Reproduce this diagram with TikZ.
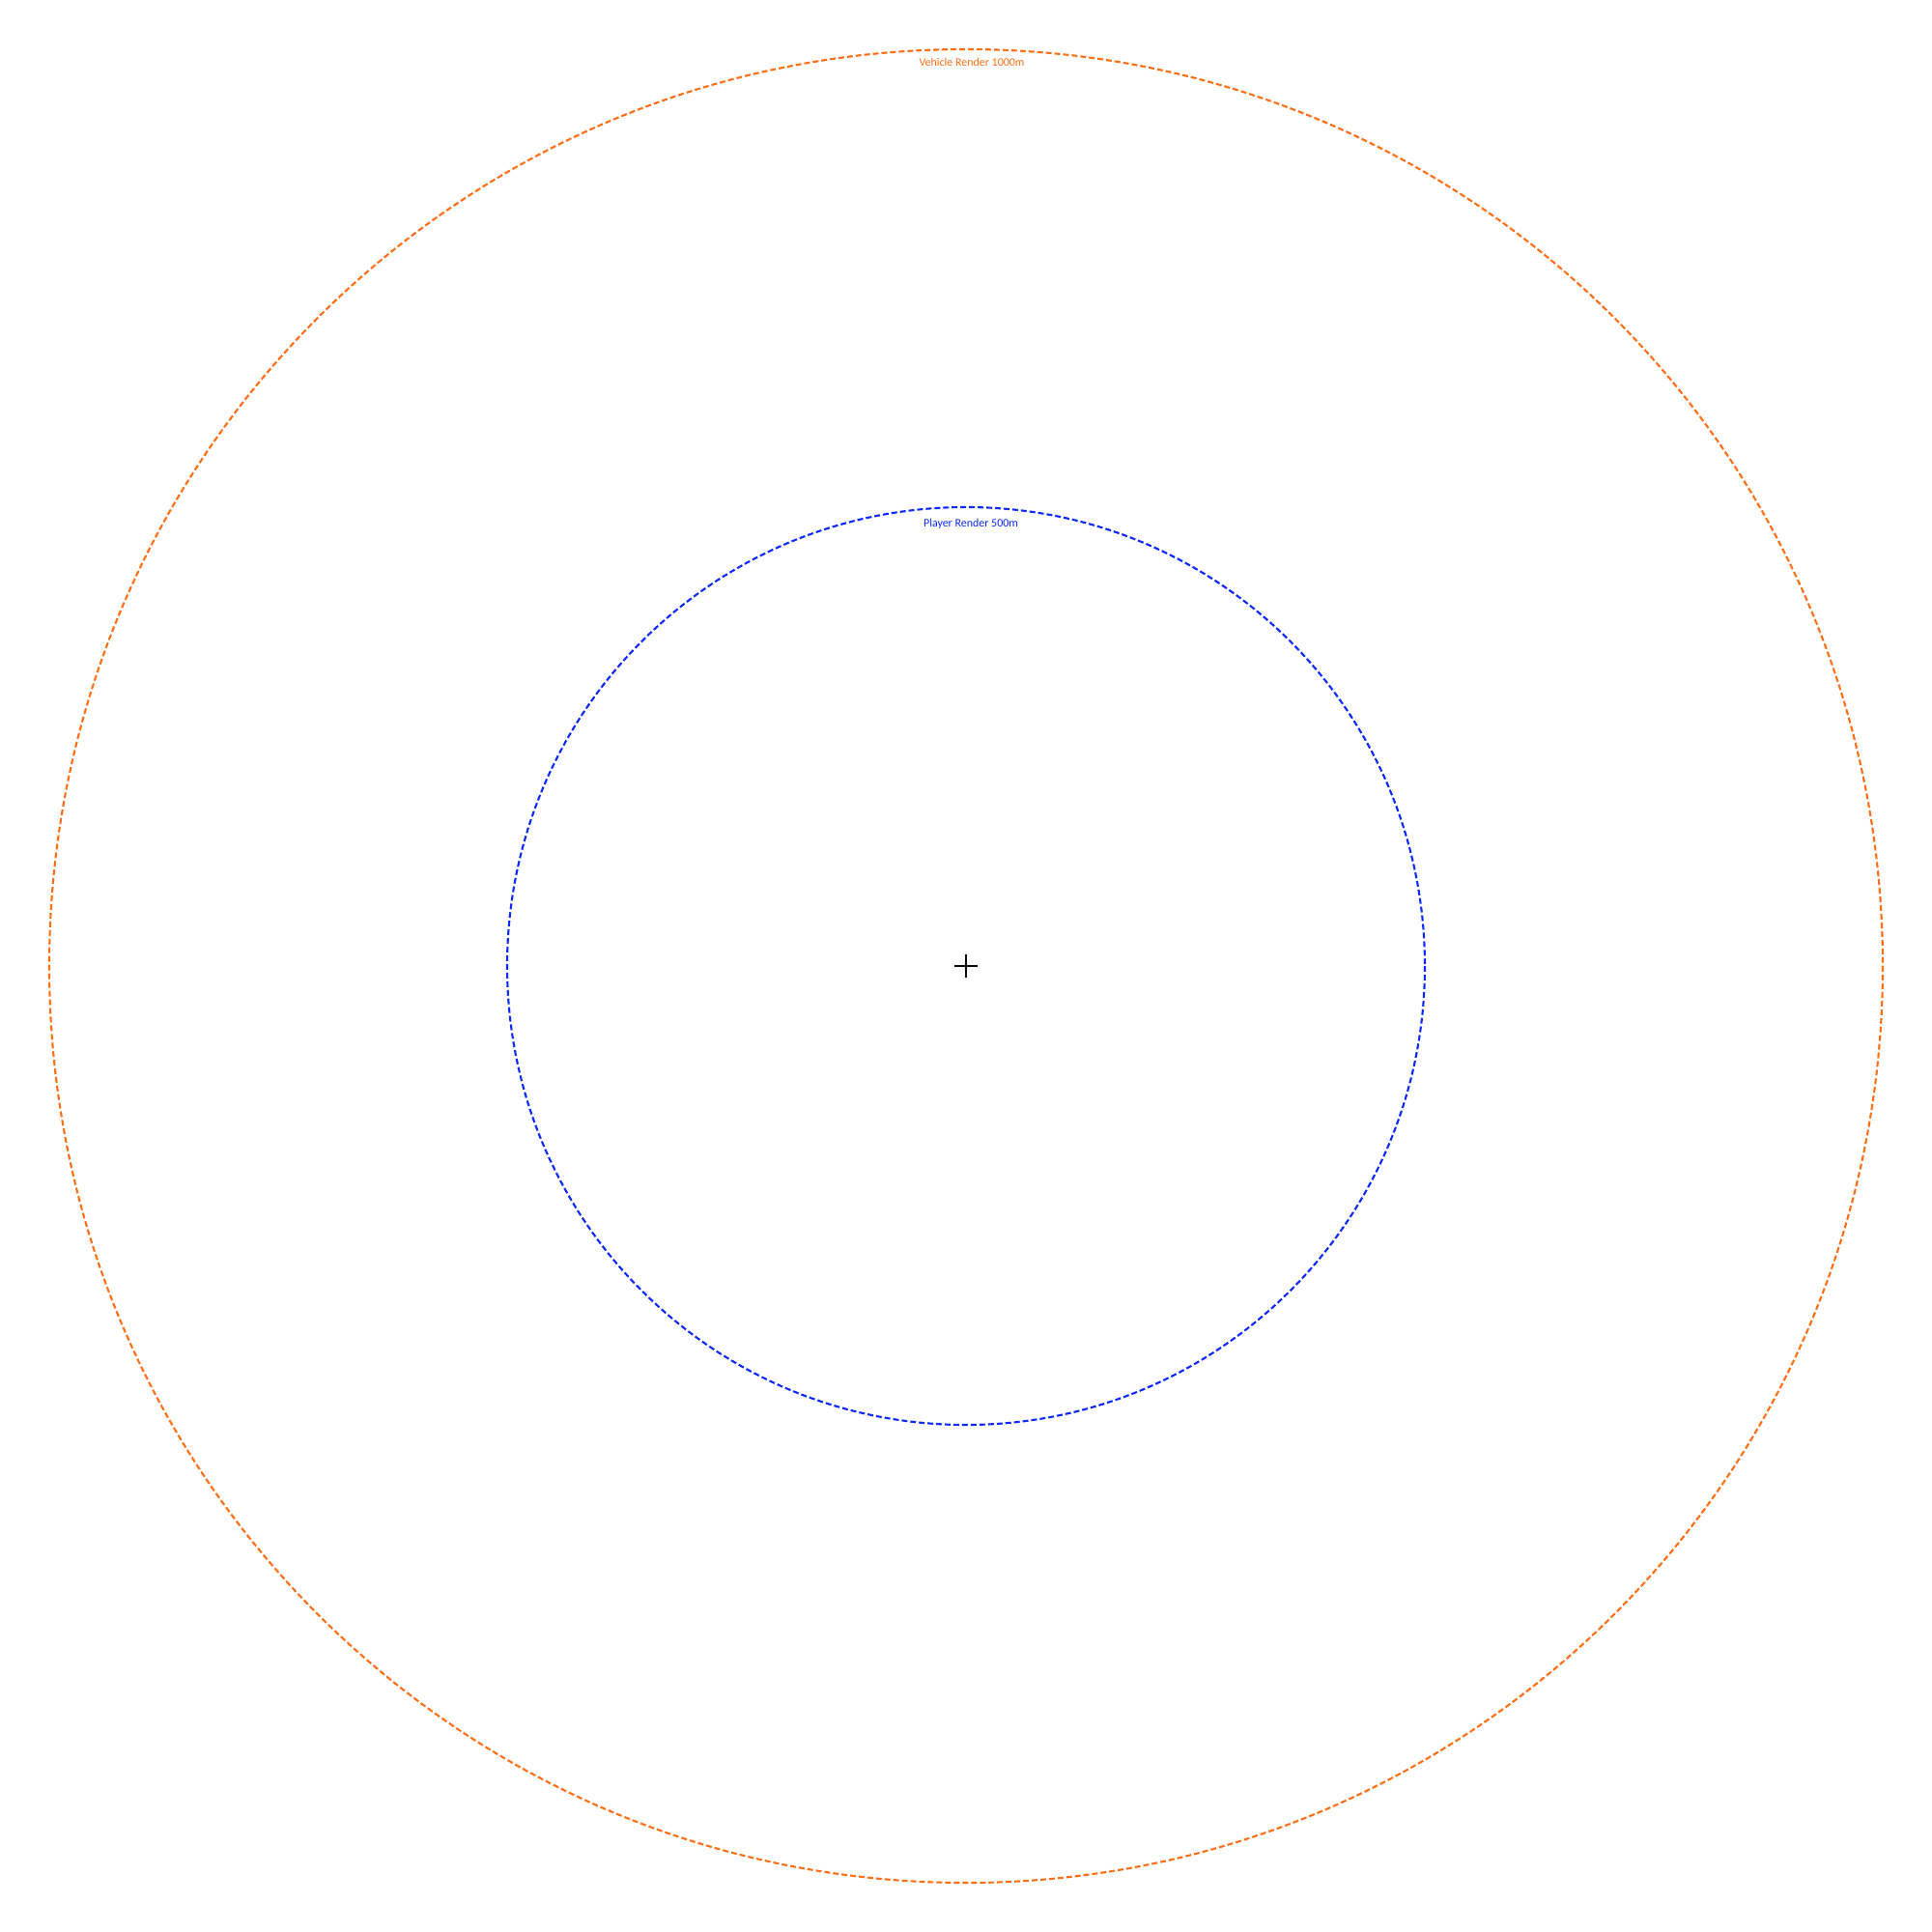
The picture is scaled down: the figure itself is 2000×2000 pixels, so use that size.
\documentclass[tikz,border=0pt]{standalone}
\usepackage{fontspec}
\setmainfont{Carlito}
\definecolor{vorange}{RGB}{255,110,20}
\definecolor{pblue}{RGB}{10,40,255}
\begin{document}
\begin{tikzpicture}[x=0.01cm,y=-0.01cm,
  ring/.style={line width=0.6pt,dash pattern=on 1.7pt off 0.85pt},
  lbl/.style={font=\fontsize{3.4pt}{4pt}\selectfont,inner sep=0pt}]
\useasboundingbox (0,0) rectangle (2000,2000);
\coordinate (c) at (1000,1000);
\draw[ring,vorange] (c) circle[radius=949];
\draw[ring,pblue] (c) circle[radius=475];
\node[lbl,text=vorange] (vlabel) at (1006,64) {Vehicle Render 1000m};
\node[lbl,text=pblue] (plabel) at (1005,542) {Player Render 500m};
\draw[line width=0.6pt] (988,1000) -- (1012,1000) (1000,988) -- (1000,1012);
\end{tikzpicture}
\end{document}
